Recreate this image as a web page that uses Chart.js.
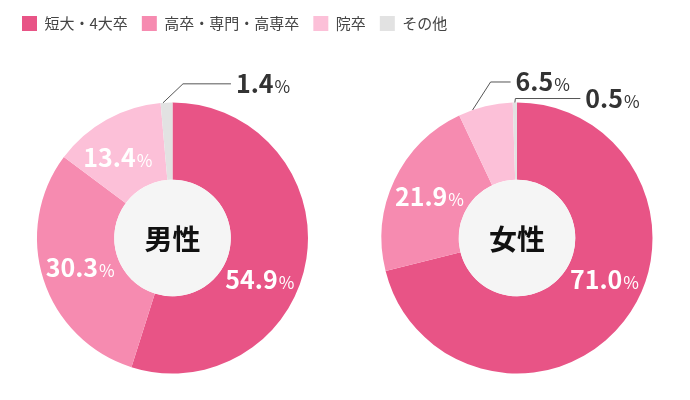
<!DOCTYPE html>
<html lang="ja">
<head>
  <meta charset="UTF-8">
  <title>最終学歴</title>
  <script src="https://cdn.jsdelivr.net/npm/chart.js"></script>
  <style>
    html, body { margin: 0; padding: 0; background: #fff; }
    #wrap { position: relative; width: 690px; height: 400px; overflow: hidden; }
    .box { position: absolute; top: 0; width: 345px; height: 400px; }
    #legendBox { position: absolute; top: 0; left: 0; width: 690px; height: 100px; pointer-events: none; }
  </style>
</head>
<body>
  <div id="wrap">
    <div class="box" style="left:0"><canvas id="male"></canvas></div>
    <div class="box" style="left:345px"><canvas id="female"></canvas></div>
    <div id="legendBox"><canvas id="legend"></canvas></div>
  </div>
  <script>
    // data
    const categories = ['短大・4大卒', '高卒・専門・高専卒', '院卒', 'その他'];
    const maleValues = [54.9, 30.3, 13.4, 1.4];
    const femaleValues = [71.0, 21.9, 6.5, 0.5];
    const colors = ['#e85486', '#f68bb0', '#fcc0d8', '#e2e2e2'];

    const FONT = '"Noto Sans CJK JP", "Noto Sans", sans-serif';
    Chart.defaults.font.family = FONT;

    // number in bold + smaller "%"
    function drawValue(ctx, value, x, y, align, color) {
      const num = value.toFixed(1);
      ctx.font = 'bold 25px ' + FONT;
      const w1 = ctx.measureText(num).width;
      ctx.font = '17px ' + FONT;
      const w2 = ctx.measureText('%').width;
      const left = align === 'center' ? x - (w1 + w2 + 1) / 2 : x;
      ctx.fillStyle = color;
      ctx.textAlign = 'left';
      ctx.textBaseline = 'alphabetic';
      ctx.font = 'bold 25px ' + FONT;
      ctx.fillText(num, left, y + 9);
      ctx.font = '17px ' + FONT;
      ctx.fillText('%', left + w1 + 1, y + 9);
    }

    // centre disc, ring labels and leader lines
    const ringLabels = {
      id: 'ringLabels',
      afterDatasetsDraw(chart, args, opts) {
        if (!opts.center) return;
        const ctx = chart.ctx;
        const meta = chart.getDatasetMeta(0);
        const values = chart.data.datasets[0].data;
        const first = meta.data[0];
        const cx = first.x, cy = first.y;
        const r0 = first.innerRadius, r1 = first.outerRadius;
        ctx.save();
        ctx.fillStyle = '#f5f5f5';
        ctx.beginPath();
        ctx.arc(cx, cy, r0, 0, Math.PI * 2);
        ctx.fill();
        ctx.fillStyle = '#111';
        ctx.font = 'bold 28px ' + FONT;
        ctx.textAlign = 'center';
        ctx.textBaseline = 'middle';
        ctx.fillText(opts.center, cx, cy + 1);

        meta.data.forEach((arc, i) => {
          const leader = opts.leaders[i];
          if (leader) {
            const a = arc.startAngle + (arc.endAngle - arc.startAngle) * leader.at;
            const x0 = cx + Math.cos(a) * r1, y0 = cy + Math.sin(a) * r1;
            const x1 = x0 + leader.dx, y1 = y0 + leader.dy;
            const x2 = x1 + leader.len;
            ctx.strokeStyle = '#555';
            ctx.lineWidth = 1;
            ctx.beginPath();
            ctx.moveTo(x0, y0);
            ctx.lineTo(x1, y1);
            ctx.lineTo(x2, y1);
            ctx.stroke();
            drawValue(ctx, values[i], x2 + 5, y1, 'left', '#333');
          } else {
            const mid = (arc.startAngle + arc.endAngle) / 2 + (opts.shift[i] || 0) * Math.PI / 180;
            const rm = (r0 + r1) / 2;
            drawValue(ctx, values[i], cx + Math.cos(mid) * rm, cy + Math.sin(mid) * rm, 'center', '#fff');
          }
        });
        ctx.restore();
      }
    };

    function makeChart(id, values, label, padding, shift, leaders) {
      return new Chart(document.getElementById(id), {
        type: 'doughnut',
        data: {
          labels: categories,
          datasets: [{
            data: values,
            backgroundColor: colors,
            borderWidth: 0,
            hoverOffset: 0
          }]
        },
        options: {
          responsive: true,
          maintainAspectRatio: false,
          animation: false,
          radius: 135.5,
          cutout: '43%',
          layout: { padding: padding },
          plugins: {
            tooltip: { enabled: false },
            legend: { display: false },
            ringLabels: { center: label, shift: shift, leaders: leaders }
          }
        },
        plugins: [ringLabels]
      });
    }

    makeChart('male', maleValues, '男性',
      { left: 6, right: 6, top: 76, bottom: 0 },
      [16.8, 0, -5.2, 0],
      { 3: { at: 0.2, dx: 20, dy: -19, len: 48 } });

    makeChart('female', femaleValues, '女性',
      { left: 0, right: 1, top: 76, bottom: 0 },
      [-12.5, 0, -5.6, 0],
      { 2: { at: 0.26, dx: 18, dy: -28, len: 20 }, 3: { at: 0.5, dx: 0.5, dy: -4, len: 65 } });

    // shared legend across the top
    new Chart(document.getElementById('legend'), {
      type: 'doughnut',
      data: {
        labels: categories,
        datasets: [{ data: maleValues, backgroundColor: colors, borderWidth: 0 }]
      },
      options: {
        responsive: true,
        maintainAspectRatio: false,
        animation: false,
        radius: 0,
        events: [],
        layout: { padding: { left: 8, top: 2 } },
        plugins: {
          tooltip: { enabled: false },
          legend: {
            position: 'top',
            align: 'start',
            labels: {
              boxWidth: 15,
              boxHeight: 15,
              padding: 14,
              color: '#444',
              font: { size: 15 }
            }
          }
        }
      }
    });
  </script>
</body>
</html>
